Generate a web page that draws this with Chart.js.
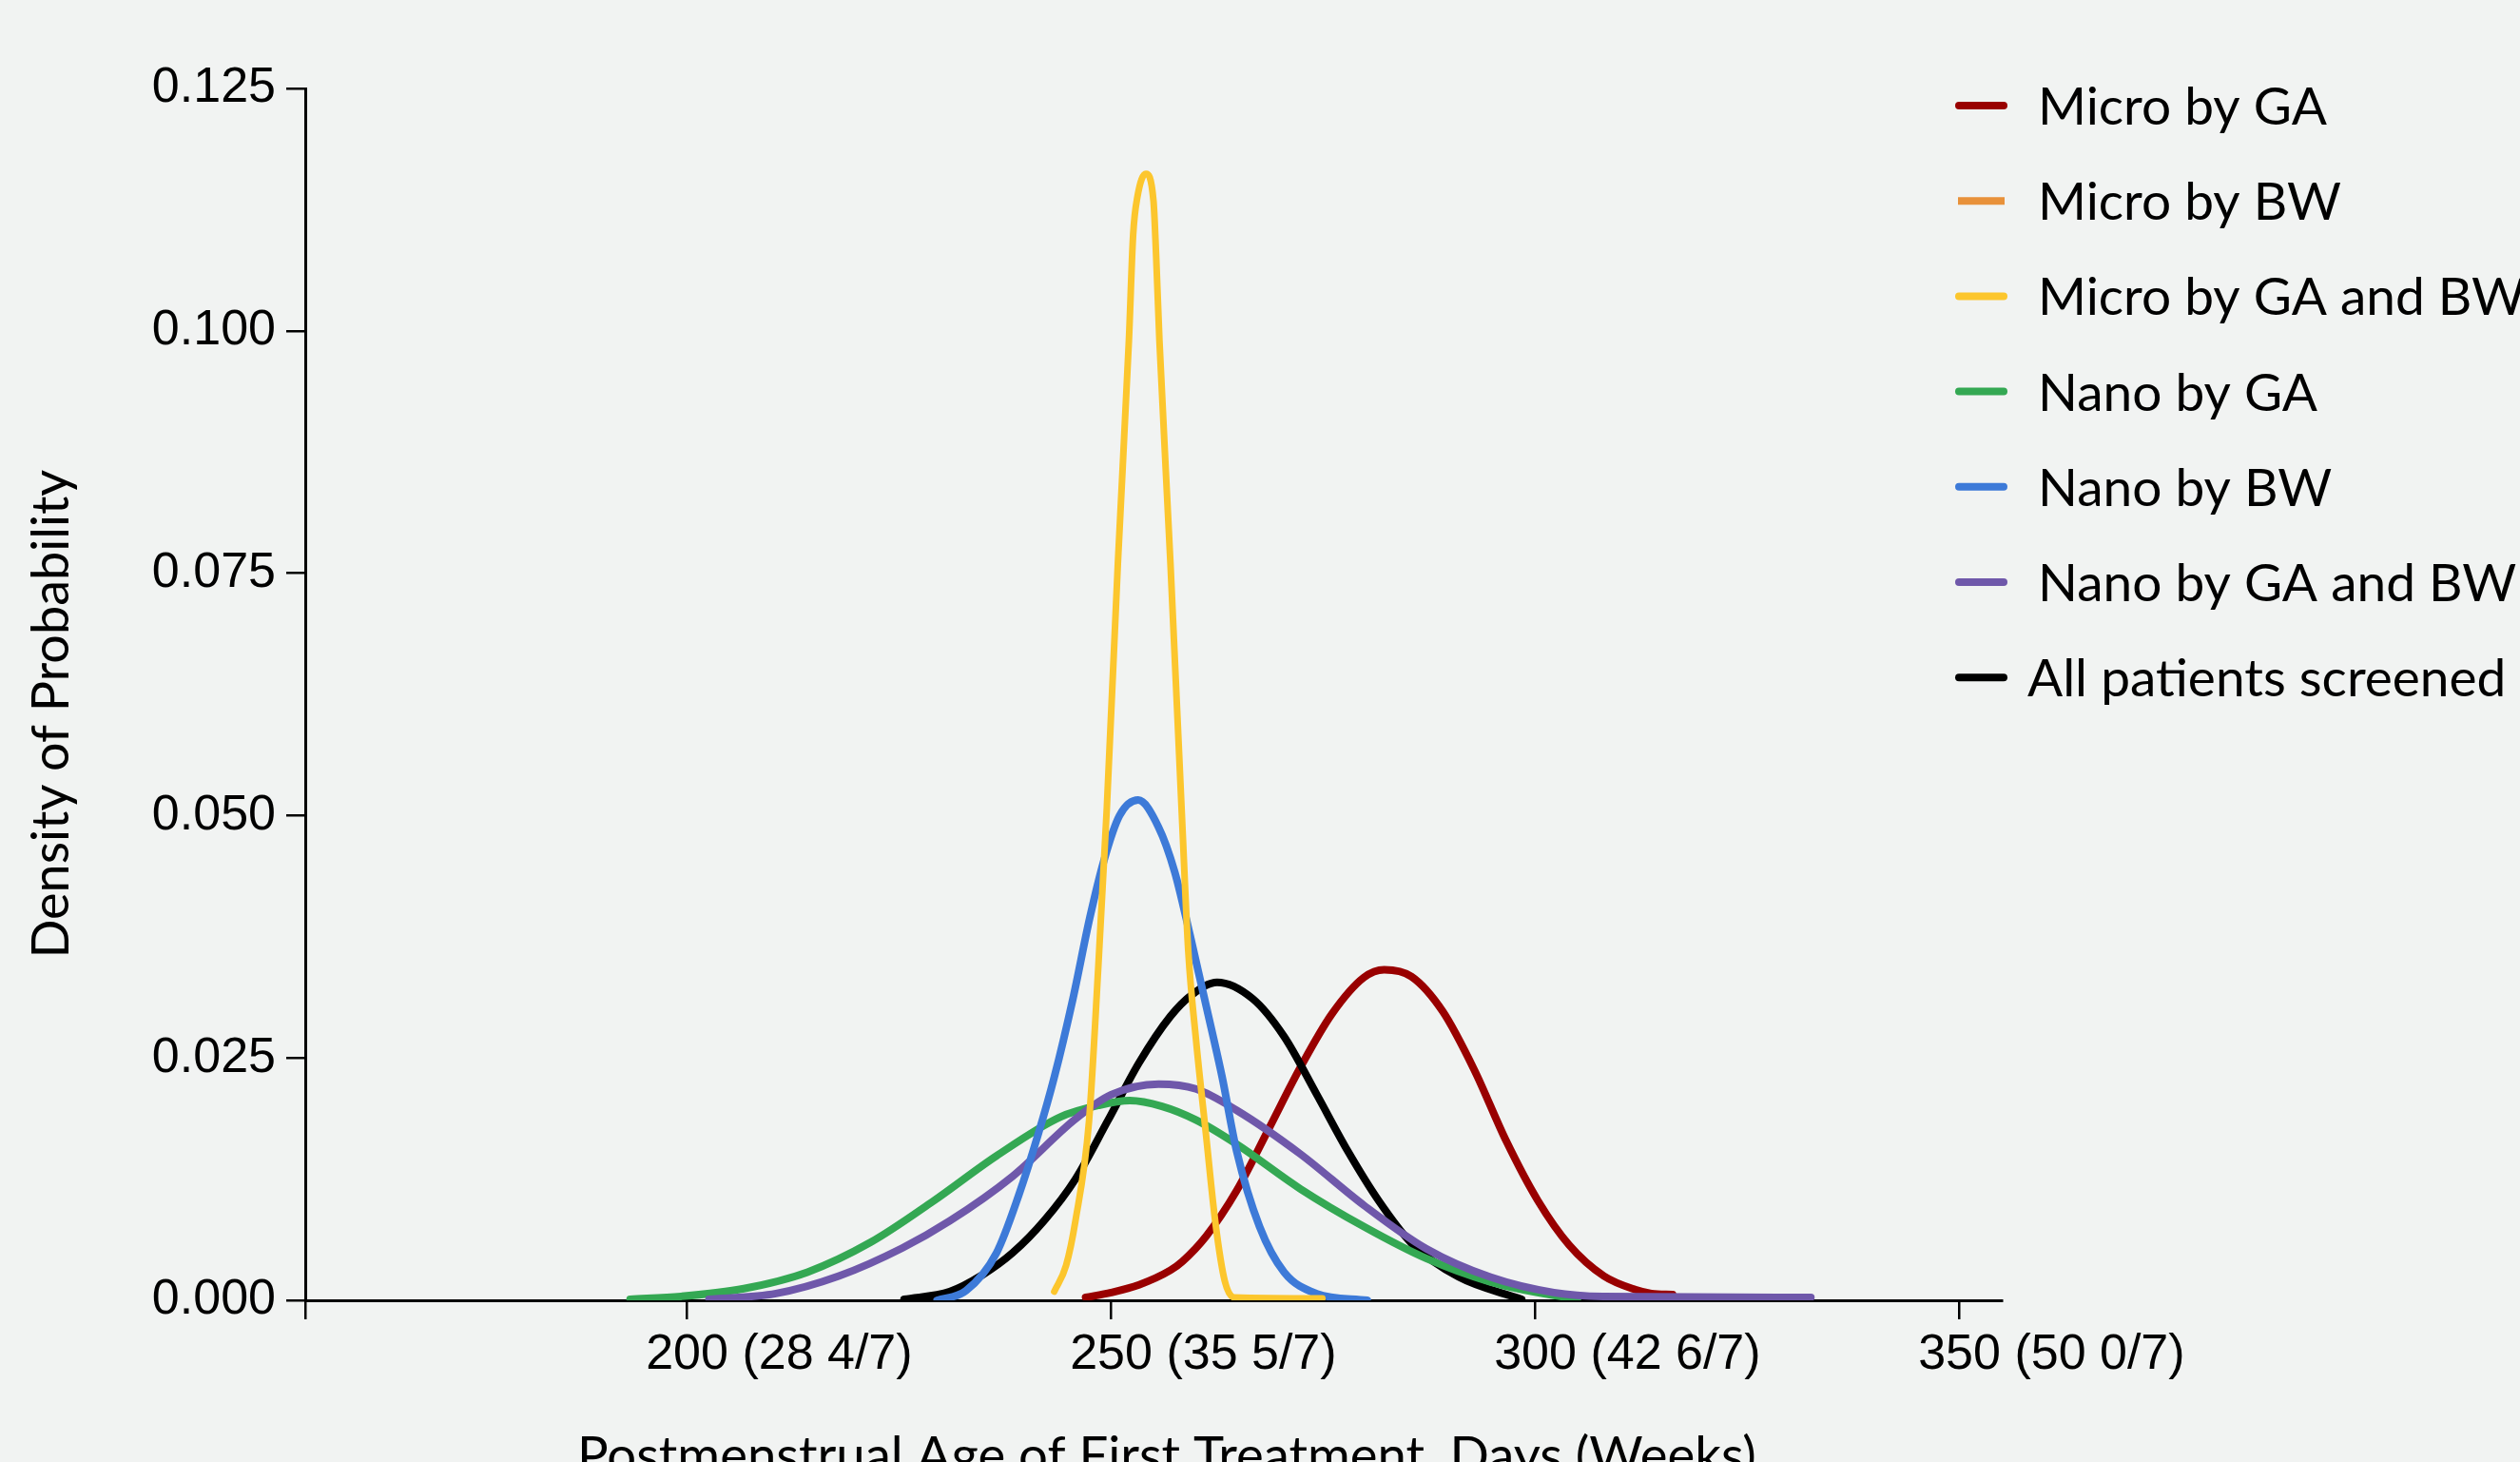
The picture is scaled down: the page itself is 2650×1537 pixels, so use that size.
<!DOCTYPE html>
<html>
<head>
<meta charset="utf-8">
<script src="https://cdn.jsdelivr.net/npm/chart.js@4.4.1/dist/chart.umd.min.js"></script>
<style>
  html, body { margin: 0; padding: 0; background: #f1f3f2; overflow: hidden; }
</style>
</head>
<body>
<canvas id="chartDensity" width="2650" height="1564"></canvas>
<script>
// nilai: [hari, densitas]
const seriesNames = [
  "Micro by GA", "Micro by BW", "Micro by GA and BW",
  "Nano by GA", "Nano by BW", "Nano by GA and BW", "All patients screened"
];
const seriesColors = ["#990000", "#e8913a", "#fcc62d", "#34a853", "#3d7ad8", "#6f58aa", "#000000"];

const microByGA = [
  [247.0, 0.0003], [250.0, 0.0008], [253.3, 0.0016], [257.0, 0.0031], [258.4, 0.0040],
  [261.2, 0.0066], [264.8, 0.0113], [268.6, 0.0177], [272.3, 0.0240], [276.0, 0.0295],
  [279.8, 0.0333], [282.2, 0.0341], [285.4, 0.0334], [289.1, 0.0298], [292.8, 0.0238],
  [296.6, 0.0164], [300.3, 0.0103], [304.0, 0.0057], [308.1, 0.0025], [311.8, 0.0011],
  [313.7, 0.0007], [316.2, 0.0006]
];
const microByBW = [];
const microByGAandBW = [
  [243.3, 0.0009], [244.7, 0.0036], [245.8, 0.0082], [247.4, 0.0185], [248.5, 0.0345],
  [249.5, 0.0508], [250.8, 0.0760], [252.1, 0.0990], [252.6, 0.1099], [253.1, 0.1138],
  [254.1, 0.1162], [255.0, 0.1134], [255.3, 0.1080], [255.7, 0.0990], [257.0, 0.0760],
  [258.4, 0.0490], [259.1, 0.0360], [260.0, 0.0270], [261.2, 0.0170], [262.3, 0.0080],
  [263.4, 0.0020], [264.5, 0.0003], [274.9, 0.0002]
];
const nanoByGA = [
  [193.3, 0.0001], [199.3, 0.0004], [206.7, 0.0012], [214.2, 0.0029], [221.7, 0.0060],
  [229.0, 0.0102], [236.5, 0.0149], [244.0, 0.0189], [248.5, 0.0201], [252.2, 0.0206],
  [256.0, 0.0200], [260.0, 0.0186], [264.8, 0.0161], [272.3, 0.0115], [279.8, 0.0076],
  [287.2, 0.0043], [294.7, 0.0019], [302.2, 0.0005], [305.0, 0.0002]
];
const nanoByBW = [
  [229.5, 0.0000], [232.9, 0.0010], [236.5, 0.0049], [239.1, 0.0108], [241.4, 0.0171],
  [243.3, 0.0230], [245.5, 0.0311], [247.5, 0.0395], [249.2, 0.0455], [251.0, 0.0500],
  [253.2, 0.0516], [255.6, 0.0488], [257.5, 0.0442], [259.3, 0.0377], [261.2, 0.0304],
  [263.1, 0.0230], [264.8, 0.0154], [267.5, 0.0076], [270.4, 0.0029], [274.2, 0.0007],
  [280.2, 0.0000]
];
const nanoByGAandBW = [
  [202.6, 0.0001], [210.5, 0.0007], [217.9, 0.0025], [225.4, 0.0054], [231.0, 0.0082],
  [238.4, 0.0128], [245.8, 0.0187], [250.0, 0.0212], [255.6, 0.0223], [260.0, 0.0218],
  [264.8, 0.0196], [272.3, 0.0151], [279.8, 0.0098], [287.2, 0.0053], [294.7, 0.0024],
  [302.2, 0.0008], [308.0, 0.0004], [332.5, 0.0003]
];
const allScreened = [
  [225.6, 0.0001], [231.0, 0.0009], [234.8, 0.0026], [238.4, 0.0049], [242.1, 0.0082],
  [245.8, 0.0125], [249.6, 0.0185], [253.3, 0.0245], [257.0, 0.0293], [259.5, 0.0315],
  [262.5, 0.0328], [266.7, 0.0311], [270.4, 0.0272], [274.2, 0.0213], [277.9, 0.0154],
  [281.6, 0.0102], [285.4, 0.0059], [291.0, 0.0024], [298.4, 0.0001]
];

const xTickValues = [155, 200, 250, 300, 350];
const xTickLabels = ["", "200 (28 4/7)", "250 (35 5/7)", "300 (42 6/7)", "350 (50 0/7)"];
const yTickValues = [0, 0.025, 0.05, 0.075, 0.1, 0.125];
const yTickLabels = ["0.000", "0.025", "0.050", "0.075", "0.100", "0.125"];

const seriesData = [microByGA, microByBW, microByGAandBW, nanoByGA, nanoByBW, nanoByGAandBW, allScreened];
// urutan gambar: kuning paling atas, merah paling bawah
const drawOrder = [5, 6, 0, 3, 1, 2, 4];

// legenda di kanan, digambar sendiri biar posisinya bebas
const sideLegend = {
  id: "sideLegend",
  afterDraw(chart) {
    const ctx = chart.ctx;
    ctx.save();
    ctx.font = "55px Lato";
    ctx.textBaseline = "alphabetic";
    chart.data.datasets.forEach((ds, i) => {
      const y = 111 + i * 100.2;
      ctx.strokeStyle = ds.borderColor;
      ctx.lineWidth = 8;
      ctx.lineCap = i === 1 ? "butt" : "round";
      ctx.beginPath();
      ctx.moveTo(i === 1 ? 2059 : 2060, y);
      ctx.lineTo(i === 1 ? 2108 : 2107, y);
      ctx.stroke();
      ctx.fillStyle = "#000";
      ctx.fillText(ds.label, i === 6 ? 2132 : 2143, y + 20);
    });
    ctx.restore();
  }
};

const ctx = document.getElementById("chartDensity").getContext("2d");
new Chart(ctx, {
  type: "line",
  data: {
    datasets: seriesNames.map((name, i) => ({
      label: name,
      data: seriesData[i].map((p) => ({ x: p[0], y: p[1] })),
      borderColor: seriesColors[i],
      backgroundColor: seriesColors[i],
      borderWidth: i === 2 ? 7 : 8,
      pointRadius: 0,
      cubicInterpolationMode: "monotone",
      borderCapStyle: "round",
      borderJoinStyle: "round",
      fill: false,
      order: drawOrder[i],
    })),
  },
  options: {
    responsive: false,
    animation: false,
    layout: { padding: { top: 93, right: 545, bottom: 0, left: 20 } },
    plugins: {
      legend: { display: false },
      tooltip: { enabled: false },
    },
    scales: {
      x: {
        type: "linear",
        min: 155,
        max: 355,
        afterBuildTicks: (s) => { s.ticks = xTickValues.map((v) => ({ value: v })); },
        afterFit: (s) => { s.height = 197; },
        border: { color: "#000", width: 3 },
        grid: { drawOnChartArea: false, color: "#000", lineWidth: 2.5, tickLength: 20 },
        ticks: {
          color: "#000",
          font: { family: "Liberation Sans", size: 52 },
          padding: 6,
          labelOffset: 97,
          maxRotation: 0,
          autoSkip: false,
          callback: (v, i) => xTickLabels[i],
        },
        title: {
          display: true,
          // spasi di depan biar judul geser sedikit ke kanan
          text: "  Postmenstrual Age of First Treatment, Days (Weeks)",
          color: "#000",
          font: { family: "Lato", size: 54.5 },
          padding: { top: 0, bottom: 0 },
        },
      },
      y: {
        min: 0,
        max: 0.125,
        afterBuildTicks: (s) => { s.ticks = yTickValues.map((v) => ({ value: v })); },
        afterFit: (s) => { s.width = 301; },
        border: { color: "#000", width: 3 },
        grid: { drawOnChartArea: false, color: "#000", lineWidth: 2.5, tickLength: 20 },
        ticks: {
          color: "#000",
          font: { family: "Liberation Sans", size: 52 },
          padding: 11,
          callback: (v, i) => yTickLabels[i],
        },
        title: {
          display: true,
          // spasi di belakang biar judul agak turun seperti aslinya
          text: "Density of Probability   ",
          color: "#000",
          font: { family: "Lato", size: 54 },
          padding: { top: 2, bottom: 0 },
        },
      },
    },
  },
  plugins: [sideLegend],
});
</script>
</body>
</html>
